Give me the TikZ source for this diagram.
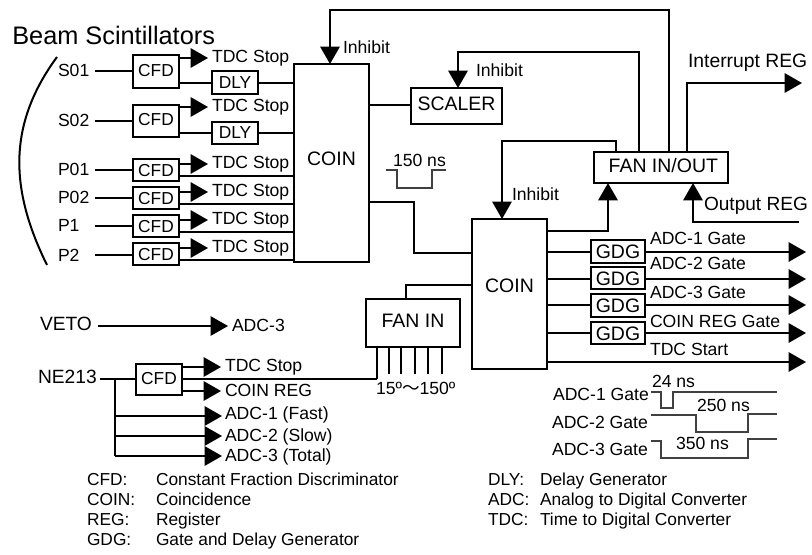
\documentclass[tikz,border=0pt]{standalone}
\usepackage{fontspec}
\setmainfont{Liberation Sans}
\newfontfamily\cjkf{Noto Sans CJK JP}
\usetikzlibrary{arrows.meta}
\newcommand{\bx}[6][]{%
  \pgfmathsetmacro{\bxw}{(#5-#3)*0.75}%
  \pgfmathsetmacro{\bxh}{(#6-#4)*0.75}%
  \node[box,minimum width=\bxw pt,minimum height=\bxh pt,#1] (#2) at ({(#3+#5)/2},{(#4+#6)/2}) {\BXTEXT};}
\tikzset{
  box/.style={draw,line width=1.5pt,fill=white,inner sep=0pt,outer sep=0pt,font=\fontsize{13}{15}\selectfont,text height=.716em,text depth=0pt,align=center},
  big/.style={font=\fontsize{14.6}{16}\selectfont},
  lbl/.style={anchor=west,inner sep=0pt,outer sep=0pt,font=\fontsize{13.2}{15}\selectfont,text height=.716em,text depth=0pt},
  biglbl/.style={lbl,font=\fontsize{14.4}{16}\selectfont},
  leg/.style={lbl,font=\fontsize{13}{15}\selectfont},
  wire/.style={line width=1.5pt},
  thinw/.style={line width=1.05pt},
  pulse/.style={line width=.95pt,black!75},
  head/.style={-{Triangle[length=13pt,width=14.5pt]}},
  arr/.style={line width=1.5pt,head},
}
\begin{document}
\begin{tikzpicture}[x=0.75pt,y=-0.75pt,line join=miter]
\useasboundingbox (0,0) rectangle (812,554);
% boxes
\def\BXTEXT{COIN}\bx[big,text depth=3pt]{coinA}{294}{64}{369}{262}
\def\BXTEXT{COIN}\bx[big,text depth=9pt]{coinB}{472}{219}{547}{369}
\def\BXTEXT{CFD}\bx{cfdS}{133}{55}{179}{88}
\def\BXTEXT{CFD}\bx{cfdT}{133}{105}{179}{137}
\def\BXTEXT{CFD}\bx[text height=\dimexpr.716em+3pt\relax]{cfdP}{133}{159}{179}{181}
\def\BXTEXT{CFD}\bx[text height=\dimexpr.716em+3pt\relax]{cfdQ}{133}{187}{179}{209}
\def\BXTEXT{CFD}\bx[text height=\dimexpr.716em+3pt\relax]{cfdR}{133}{215}{179}{237}
\def\BXTEXT{CFD}\bx[text height=\dimexpr.716em+3pt\relax]{cfdU}{133}{243}{179}{265}
\def\BXTEXT{DLY}\bx[text height=\dimexpr.716em+1.5pt\relax]{dlyA}{212}{71}{258}{94}
\def\BXTEXT{DLY}\bx[text height=\dimexpr.716em+1.5pt\relax]{dlyB}{212}{122}{258}{144}
\def\BXTEXT{SCALER}\bx[big]{scaler}{411}{88}{502}{124}
\def\BXTEXT{\hspace*{3.5pt}FAN IN/OUT}\bx[big]{fanio}{594}{152}{728}{183}
\def\BXTEXT{FAN IN}\bx[big]{fanin}{366}{299}{460}{347}
\def\BXTEXT{GDG}\bx[big,text height=\dimexpr.716em+3.5pt\relax]{gdgA}{591}{240}{645}{263}
\def\BXTEXT{GDG}\bx[big,text height=\dimexpr.716em+3.5pt\relax]{gdgB}{591}{267}{645}{289}
\def\BXTEXT{GDG}\bx[big,text height=\dimexpr.716em+3.5pt\relax]{gdgC}{591}{294}{645}{317}
\def\BXTEXT{GDG}\bx[big,text height=\dimexpr.716em+3.5pt\relax]{gdgD}{591}{322}{645}{344}
\def\BXTEXT{CFD}\bx{cfdN}{136}{364}{182}{395}
% top-left labels
\node[anchor=west,inner sep=0pt,font=\fontsize{19}{21}\selectfont] (title) at (12,35) {Beam Scintillators};
\node[lbl] (lS) at (58,72) {S01};
\node[lbl] (lT) at (58,122) {S02};
\node[lbl] (lP) at (58,171) {P01};
\node[lbl] (lQ) at (58,199) {P02};
\node[lbl] (lR) at (58,227) {P1};
\node[lbl] (lU) at (58,257) {P2};
% input free ends
\coordinate (iS) at (95,71);
\coordinate (iT) at (95,121);
\coordinate (iP) at (95,170);
\coordinate (iQ) at (95,198);
\coordinate (iR) at (95,226);
\coordinate (iU) at (95,255);
\draw[thinw] (iS) -- (iS -| cfdS.west);
\draw[wire] (iT) -- (iT -| cfdT.west);
\draw[wire] (iP) -- (iP -| cfdP.west);
\draw[wire] (iQ) -- (iQ -| cfdQ.west);
\draw[thinw] (iR) -- (iR -| cfdR.west);
\draw[thinw] (iU) -- (iU -| cfdU.west);
% arc
\coordinate (arcA) at (57,57);
\coordinate (arcB) at (47,265);
\draw[line width=1.5pt] (arcA) .. controls (7,125) and (10,190) .. (arcB);
% TDC stop arrows
\foreach \n/\yy in {S/58,T/107,P/164,Q/192,R/220,U/248}{
  \coordinate (t\n) at (208,\yy);
  \draw[arr] (t\n -| cfd\n.east) -- (t\n);
  \node[lbl] (s\n) at (212,\yy) {TDC Stop};
}
% CFD to DLY to COIN
\coordinate (dS) at (258,83);
\coordinate (dT) at (258,132.5);
\draw[wire] (dS -| cfdS.east) -- (dS -| dlyA.west);
\draw[wire] (dS -| dlyA.east) -- (dS -| coinA.west);
\draw[wire] (dT -| cfdT.east) -- (dT -| dlyB.west);
\draw[wire] (dT -| dlyB.east) -- (dT -| coinA.west);
\foreach \n/\yy in {P/176,Q/204,R/232,U/260}{
  \coordinate (c\n) at (200,\yy);
  \draw[wire] (c\n -| cfd\n.east) -- (c\n -| coinA.west);
}
% inhibits
\coordinate (topL) at (330,10);
\coordinate (topR) at (669,10);
\draw[arr] (fanio.north -| topR) -- (topR) -- (topL) -- (topL |- coinA.north);
\node[lbl] (inhA) at (343,49) {Inhibit};
\coordinate (midL) at (458,52);
\coordinate (midR) at (639,52);
\draw[arr] (fanio.north -| midR) -- (midR) -- (midL) -- (midL |- scaler.north);
\node[lbl] (inhB) at (476,72) {Inhibit};
\coordinate (lowL) at (502,141);
\coordinate (lowR) at (616,141);
\draw[arr] (fanio.north -| lowR) -- (lowR) -- (lowL) -- (lowL |- coinB.north);
\node[lbl] (inhC) at (512,196) {Inhibit};
% coin A outputs
\coordinate (scIn) at (380,105);
\draw[wire] (scIn -| coinA.east) -- (scIn -| scaler.west);
\coordinate (bendA) at (414,202);
\coordinate (bendB) at (414,253);
\draw[wire] (bendA -| coinA.east) -- (bendA) -- (bendB) -- (bendB -| coinB.west);
% fan i/o
\coordinate (irA) at (687,83);
\coordinate (irB) at (802,83);
\draw[arr] (irA |- fanio.north) -- (irA) -- (irB);
\node[lbl,font=\fontsize{14.5}{16}\selectfont] (irL) at (688,63) {Interrupt REG};
\coordinate (upA) at (608,231);
\draw[arr] (upA -| coinB.east) -- (upA) -- (upA |- fanio.south);
\coordinate (orA) at (693,222);
\coordinate (orB) at (799,222);
\draw[arr] (orB) -- (orA) -- (orA |- fanio.south);
\node[lbl,font=\fontsize{14.3}{16}\selectfont] (orL) at (704,206) {Output REG};
% GDG rows
\foreach \n/\yy/\t/\ty in {A/252/ADC-1 Gate/240,B/279/ADC-2 Gate/265,C/305/ADC-3 Gate/294,D/333/COIN REG Gate/323}{
  \coordinate (g\n) at (806,\yy);
  \draw[wire] (g\n -| coinB.east) -- (g\n -| gdg\n.west);
  \draw[arr] (g\n -| gdg\n.east) -- (g\n);
  \node[lbl] (gl\n) at (650,\ty) {\t};
}
\coordinate (gE) at (806,362);
\draw[arr] (gE -| coinB.east) -- (gE);
\node[lbl] (glE) at (650,351) {TDC Start};
% fan in
\coordinate (fiT) at (406,285);
\draw[wire] (fiT -| coinB.west) -- (fiT) -- (fiT |- fanin.north);
\coordinate (legJ) at (377,379);
\draw[wire] (legJ |- fanin.south) -- (legJ);
\foreach \n/\xx in {b/389,c/401,d/415,e/428,f/442}{
  \coordinate (leg\n) at (\xx,374);
  \draw[thinw] (leg\n |- fanin.south) -- (leg\n);
}
\node[lbl] (ang) at (376,390) {15º{\cjkf ～}150º};
% pulse
\coordinate (pa) at (386,170);
\coordinate (pb) at (397,188);
\coordinate (pc) at (432,170);
\coordinate (pd) at (446,170);
\draw[pulse] (pa) -| (pb) -| (pc) -- (pd);
\node[lbl] (pl) at (393,162) {150 ns};
% VETO
\node[biglbl] (veto) at (40,326) {VETO};
\coordinate (vA) at (98,326);
\coordinate (vB) at (228,326);
\draw[line width=1.05pt,head] (vA) -- (vB);
\node[lbl] (vL) at (232,327) {ADC-3};
% NE213
\node[biglbl] (ne) at (38,379) {NE213};
\coordinate (nA) at (100,379);
\draw[wire] (nA) -- (nA -| cfdN.west);
\draw[wire] (legJ -| cfdN.east) -- (legJ);
\coordinate (nT) at (221,367);
\coordinate (nB) at (221,391);
\draw[arr] (nT -| cfdN.east) -- (nT);
\draw[arr] (nB -| cfdN.east) -- (nB);
\node[lbl] (nTL) at (225,367) {TDC Stop};
\node[lbl] (nBL) at (225,392) {COIN REG};
\coordinate (tr) at (115,379);
\foreach \n/\yy/\t/\ty in {a/416/ADC-1 (Fast)/415,b/436/ADC-2 (Slow)/437,c/456/ADC-3 (Total)/457}{
  \coordinate (n\n) at (222,\yy);
  \draw[arr] (tr |- n\n) -- (n\n);
  \node[lbl] (nl\n) at (225,\ty) {\t};
}
\draw[wire] (tr) -- (tr |- nc);
% legend
\foreach \a/\b/\yy/\k in {CFD:/Constant Fraction Discriminator/481/a,COIN:/Coincidence/501/b,REG:/Register/521/c,GDG:/Gate and Delay Generator/541/d}{
  \node[leg] (la\k) at (87,\yy) {\a};
  \node[leg] (lb\k) at (156,\yy) {\b};
}
\foreach \a/\b/\yy/\k in {DLY:/Delay Generator/481/a,ADC:/Analog to Digital Converter/501/b,TDC:/Time to Digital Converter/521/c}{
  \node[leg] (ra\k) at (488,\yy) {\a};
  \node[leg] (rb\k) at (540,\yy) {\b};
}
% timing
\node[lbl] (tA) at (553,396) {ADC-1 Gate};
\node[lbl] (tB) at (552,424) {ADC-2 Gate};
\node[lbl] (tC) at (552,451) {ADC-3 Gate};
\node[lbl] (nsA) at (652,383) {24 ns};
\node[lbl] (nsB) at (697,407) {250 ns};
\node[lbl] (nsC) at (676,445) {350 ns};
\coordinate (a1) at (651,392); \coordinate (a2) at (661,408); \coordinate (a3) at (673,392); \coordinate (a4) at (777,392);
\draw[pulse] (a1) -| (a2) -| (a3) -- (a4);
\coordinate (b1) at (651,415); \coordinate (b2) at (696,432); \coordinate (b3) at (748,414); \coordinate (b4) at (777,414);
\draw[pulse] (b1) -| (b2) -| (b3) -- (b4);
\coordinate (c1) at (651,441); \coordinate (c2) at (661,458); \coordinate (c3) at (748,439); \coordinate (c4) at (777,439);
\draw[pulse] (c1) -| (c2) -| (c3) -- (c4);
\end{tikzpicture}
\end{document}
